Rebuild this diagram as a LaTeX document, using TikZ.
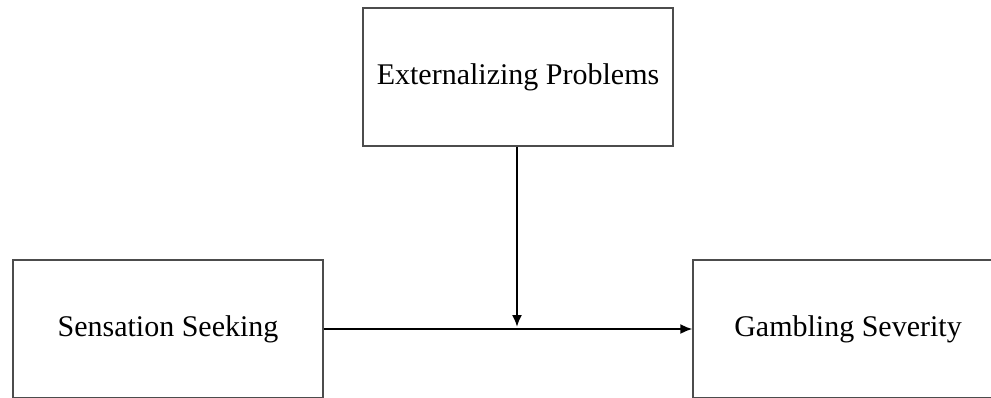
\documentclass[tikz,border=0pt]{standalone}
\usepackage{fontspec}
\setmainfont{Liberation Serif}
\usetikzlibrary{arrows.meta}

\begin{document}
\begin{tikzpicture}[x=0.5pt, y=-0.5pt,
        varbox/.style={rectangle, draw=black!70, line width=0.6pt, minimum width=155pt, minimum height=69pt, inner sep=0pt, font=\fontsize{15}{18}\selectfont},
        path/.style={line width=1pt, -{Latex[length=6pt, width=5pt]}}]
        \useasboundingbox (0,0) rectangle (991,397);
        % Nodes
        \node (ext) [varbox] at (518,77) {Externalizing Problems};
        \node (sen) [varbox] at (168,329) {Sensation Seeking};
        \node (gam) [varbox] at (848,329) {Gambling Severity};
        \coordinate (mod) at (517,329);

        % Edges
        \draw [path] (sen) -- (gam);
        \draw [path] (ext.south -| mod) -- ([yshift=1pt]mod);

    \end{tikzpicture}
\end{document}
